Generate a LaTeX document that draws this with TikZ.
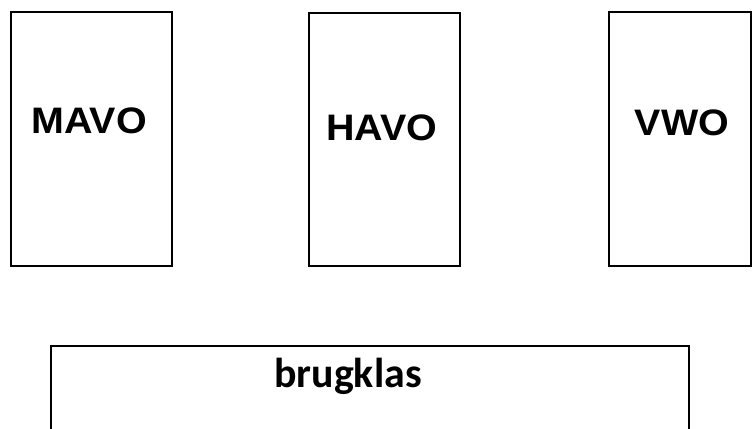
\documentclass[tikz,border=0pt]{standalone}
\usepackage{fontspec}
\setmainfont{Liberation Sans}
\newfontfamily\lvlfont[FakeStretch=1.07]{Liberation Sans}
\newfontfamily\calib{Carlito}
\begin{document}
\begin{tikzpicture}[x=1bp,y=-1bp,
  boxed/.style={draw=black,line width=2bp,fill=none},
  lvl/.style={font=\lvlfont\fontsize{37}{40}\selectfont\bfseries,anchor=base,inner sep=0pt},
  brug/.style={font=\calib\fontsize{42}{45}\selectfont\bfseries,anchor=base,inner sep=0pt}]
\useasboundingbox (0,0) rectangle (752,428);
\draw[boxed] (11,12) rectangle (172,266);
\draw[boxed] (309,13) rectangle (460,266);
\draw[boxed] (609,12) rectangle (751,266);
\draw[boxed] (51,346) rectangle (689,440);
\node[lvl] (mavo) at (89,133) {MAVO};
\node[lvl] (havo) at (382,140) {HAVO};
\node[lvl] (vwo) at (682,135) {VWO};
\node[brug] (brugklas) at (348,387) {brugklas};
\end{tikzpicture}
\end{document}
